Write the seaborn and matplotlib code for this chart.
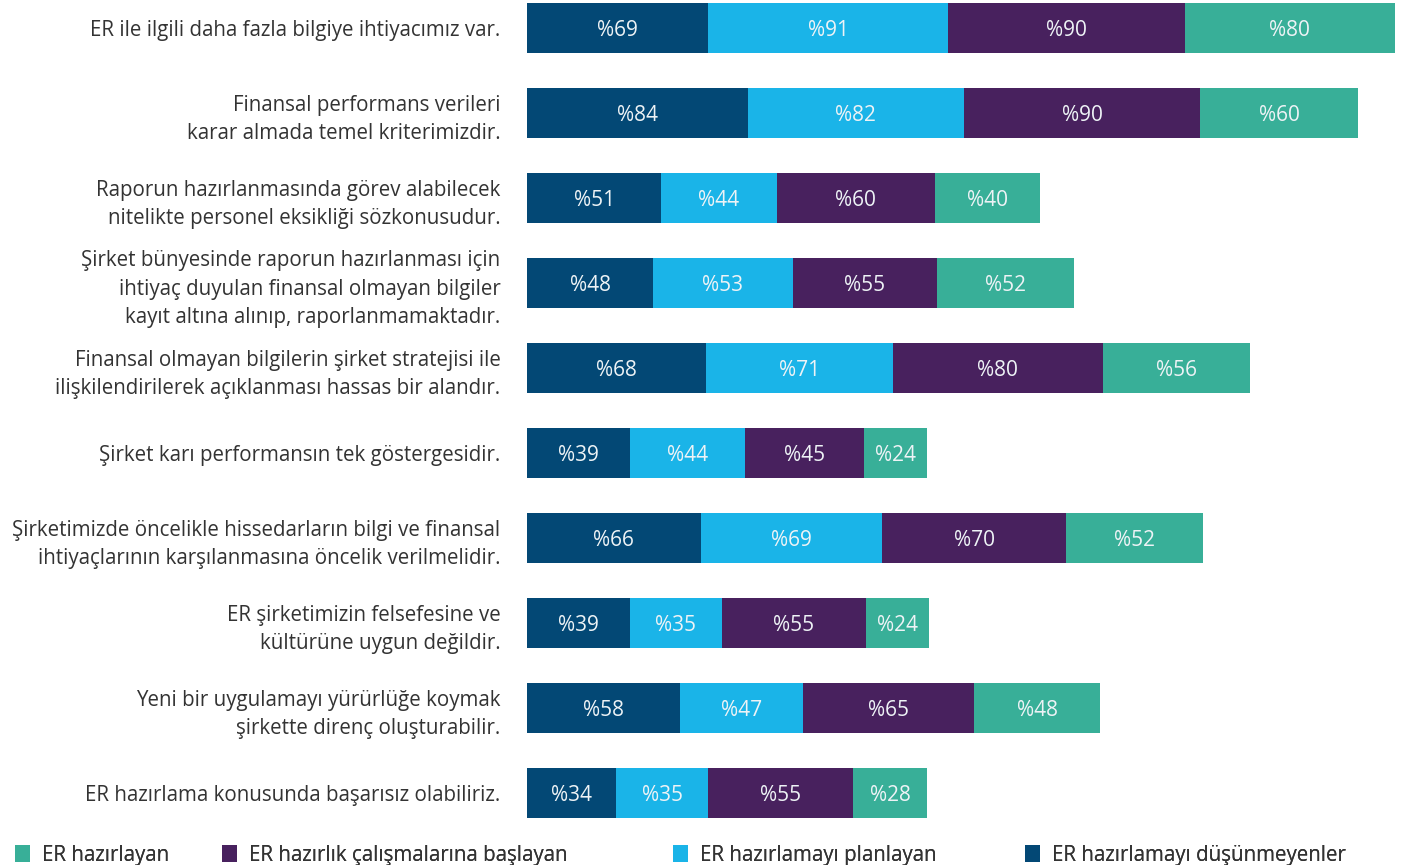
import pandas as pd
import matplotlib.pyplot as plt
import seaborn as sns

# --- veriler ---
statements = [
    "ER ile ilgili daha fazla bilgiye ihtiyacımız var.",
    "Finansal performans verileri\nkarar almada temel kriterimizdir.",
    "Raporun hazırlanmasında görev alabilecek\nnitelikte personel eksikliği sözkonusudur.",
    "Şirket bünyesinde raporun hazırlanması için\nihtiyaç duyulan finansal olmayan bilgiler\nkayıt altına alınıp, raporlanmamaktadır.",
    "Finansal olmayan bilgilerin şirket stratejisi ile\nilişkilendirilerek açıklanması hassas bir alandır.",
    "Şirket karı performansın tek göstergesidir.",
    "Şirketimizde öncelikle hissedarların bilgi ve finansal\nihtiyaçlarının karşılanmasına öncelik verilmelidir.",
    "ER şirketimizin felsefesine ve\nkültürüne uygun değildir.",
    "Yeni bir uygulamayı yürürlüğe koymak\nşirkette direnç oluşturabilir.",
    "ER hazırlama konusunda başarısız olabiliriz.",
]

dusunmeyen = [69, 84, 51, 48, 68, 39, 66, 39, 58, 34]
planlayan = [91, 82, 44, 53, 71, 44, 69, 35, 47, 35]
baslayan = [90, 90, 60, 55, 80, 45, 70, 55, 65, 55]
hazirlayan = [80, 60, 40, 52, 56, 24, 52, 24, 48, 28]

series_names = ["ER hazırlamayı düşünmeyenler", "ER hazırlamayı planlayan",
                "ER hazırlık çalışmalarına başlayan", "ER hazırlayan"]
colors = ["#034875", "#1AB4E8", "#48215E", "#38AF98"]

df = pd.DataFrame({
    "Madde": statements,
    series_names[0]: dusunmeyen,
    series_names[1]: planlayan,
    series_names[2]: baslayan,
    series_names[3]: hazirlayan,
})

cum = df[series_names].cumsum(axis=1)

sns.set_style("white")
plt.rcParams['font.family'] = ['Open Sans', 'DejaVu Sans']
TEXT = "#333333"

fig = plt.figure(figsize=(14.01, 8.65), dpi=100)
ax = fig.add_axes([527 / 1401, 1 - 835.5 / 865, 868 / 1401, 835.5 / 865])

# yığılmış çubuklar: en uzundan başlayarak üst üste çiz
for name, color in reversed(list(zip(series_names, colors))):
    sns.barplot(x=cum[name], y=df["Madde"], color=color, orient="h",
                width=0.58, ax=ax, label=name, saturation=1, linewidth=0)

# segment etiketleri
for i in range(len(df)):
    for name in series_names:
        v = df.loc[i, name]
        ax.text(cum.loc[i, name] - v / 2, i, f"%{v}", ha="center",
                va="center_baseline", color="#EEF3F6", fontsize=15)

ax.set_xlim(0, 330)
ax.set_ylim(9.5, -0.33)
ax.set_xlabel("")
ax.set_ylabel("")
ax.set_xticks([])
ax.tick_params(axis="y", length=0, pad=19, labelsize=14.8, labelcolor=TEXT)
for lbl in ax.get_yticklabels():
    lbl.set_linespacing(1.45)
for s in ax.spines.values():
    s.set_visible(False)

h, l = ax.get_legend_handles_labels()
lookup = dict(zip(l, h))
ax.legend_.remove()

# alt lejant: her kalem ayrı konumda
order = ["ER hazırlayan", "ER hazırlık çalışmalarına başlayan",
         "ER hazırlamayı planlayan", "ER hazırlamayı düşünmeyenler"]
legend_x = [15, 222, 673, 1025]
for name, lx in zip(order, legend_x):
    leg = fig.legend([lookup[name]], [name], loc="center left",
                     bbox_to_anchor=(lx / 1401, 10 / 865), frameon=False,
                     fontsize=14.8, handlelength=0.75, handleheight=0.85,
                     handletextpad=0.55, borderpad=0, borderaxespad=0,
                     labelcolor=TEXT)
    fig.add_artist(leg)

fig.savefig("out.png", dpi=100)
